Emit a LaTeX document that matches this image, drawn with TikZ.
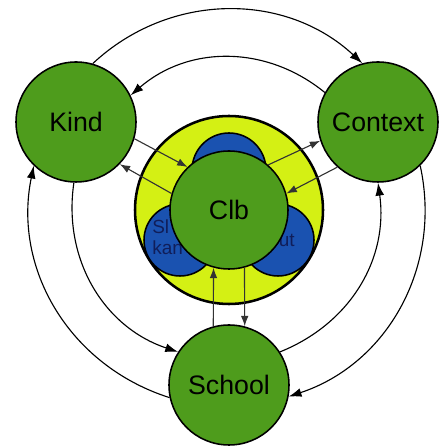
\documentclass[tikz,border=0pt]{standalone}
\usepackage{fontspec}
\setmainfont{Liberation Sans}
\usetikzlibrary{arrows.meta}
\definecolor{leafgreen}{HTML}{4E9C1C}
\definecolor{limeyellow}{HTML}{D4F014}
\definecolor{royalblue}{HTML}{1A52B0}
\definecolor{inkblue}{HTML}{101E5A}

\begin{document}
\begin{tikzpicture}[
    font=\fontsize{19}{22}\selectfont,
    actor/.style={circle, draw=black, line width=1.1pt, fill=leafgreen, minimum size=3cm, inner sep=0pt},
    ring/.style={circle, draw=black, line width=1.8pt, fill=limeyellow, minimum size=4.7cm},
    petal/.style={circle, draw=black, line width=1.1pt, fill=royalblue, minimum size=1.8cm},
    petaltext/.style={font=\fontsize{13.5}{15}\selectfont, text=inkblue, align=left, inner sep=0pt},
    flow/.style={-{Latex[length=3.2mm, width=2.2mm]}, line width=0.8pt, black},
    link/.style={-{Latex[length=2.6mm, width=1.9mm]}, line width=0.8pt, black!80}
]
\useasboundingbox (0,0) rectangle (10.975,11.15);

% ==================== CENTRE: CLB ====================
\node[ring] (ring) at (5.725, 5.9) {};
\node[petal, minimum size=1.85cm] (toppetal) at (5.725, 6.9) {};
\node[petal] (leftpetal) at (4.5, 5.15) {};
\node[petal] (rightpetal) at (6.95, 5.15) {};
\node[petaltext, anchor=west] (lefttext) at (3.8, 5.22) {Sl\\kan};
\node[petaltext, anchor=east] (righttext) at (7.375, 5.15) {ut};
\node[actor, minimum size=2.95cm] (clb) at (5.725, 5.9) {Clb};

% ==================== OUTER: KIND, CONTEXT, SCHOOL ====================
\node[actor] (kind) at (1.9, 8.1) {Kind};
\node[actor] (context) at (9.45, 8.1) {Context};
\node[actor] (school) at (5.725, 1.525) {School};

% ==================== ARCS ====================
\draw[flow] (kind.74) to[bend left=43] (context.105);
\draw[flow] (context.151) to[bend right=40] (kind.26);
\draw[flow] (kind.268) to[bend right=40] (school.147);
\draw[flow] (school.192) to[bend left=42] (kind.226);
\draw[flow] (school.33) to[bend right=38] (context.270);
\draw[flow] (context.314) to[bend left=42] (school.349);

% ==================== SPOKES ====================
\draw[link] (kind.-16) -- (clb.134);
\draw[link] (clb.164) -- (kind.-44);
\draw[link] (clb.49) -- (context.198);
\draw[link] (context.228) -- (clb.16);
\draw[link] (school.105) -- (clb.255);
\draw[link] (clb.285) -- (school.75);
\end{tikzpicture}
\end{document}
